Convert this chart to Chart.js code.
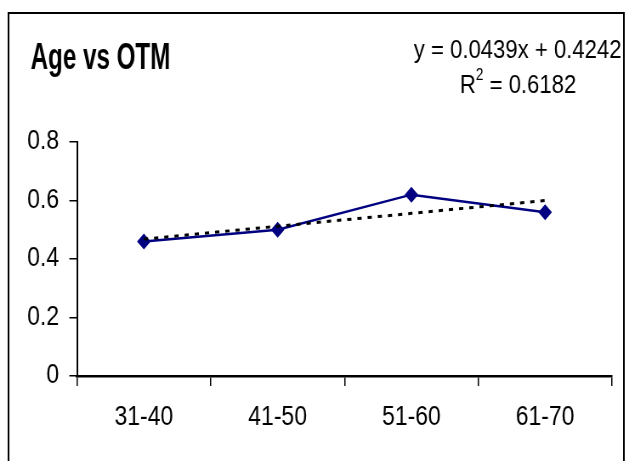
<!DOCTYPE html>
<html>
<head>
<meta charset="utf-8">
<script src="https://cdn.jsdelivr.net/npm/chart.js@4/dist/chart.umd.min.js"></script>
<style>
  html, body { margin: 0; padding: 0; background: #fff; overflow: hidden; }
  #wrap { width: 739px; height: 461px; transform: scaleX(0.85); transform-origin: 0 0; }
  #c { display: block; }
</style>
</head>
<body>
<div id="wrap"><canvas id="c" width="739" height="461"></canvas></div>
<script>
const categories = ['31-40', '41-50', '51-60', '61-70'];
const otmValues = [0.46, 0.50, 0.62, 0.56];
const trendValues = [0.468, 0.512, 0.556, 0.600];
const yTicks = [0, 0.2, 0.4, 0.6, 0.8];
const titleText = 'Age vs OTM';
const equationText = 'y = 0.0439x + 0.4242';
const r2Label = 'R';
const r2Sup = '2';
const r2Value = ' = 0.6182';

const FONT = '"Liberation Sans", Arial, sans-serif';

const decor = {
  id: 'decor',
  beforeDraw(chart) {
    const ctx = chart.ctx;
    ctx.save();
    ctx.fillStyle = '#fff';
    ctx.fillRect(0, 0, chart.width, chart.height);
    ctx.strokeStyle = '#000';
    ctx.lineWidth = 2;
    ctx.strokeRect(10, 13, 724, 470);
    ctx.restore();
  },
  afterDraw(chart) {
    const ctx = chart.ctx;
    ctx.save();
    ctx.fillStyle = '#000';
    ctx.textBaseline = 'alphabetic';
    // title (extra condensed)
    ctx.save();
    ctx.translate(36, 69);
    ctx.scale(0.79, 1);
    ctx.font = 'bold 36px ' + FONT;
    ctx.textAlign = 'left';
    ctx.fillText(titleText, 0, 0);
    ctx.restore();
    // equation
    ctx.font = '26px ' + FONT;
    ctx.textAlign = 'center';
    ctx.fillText(equationText, 609, 58);
    // R^2 line
    const mainFont = '26px ' + FONT;
    const supFont = '16px ' + FONT;
    ctx.font = mainFont;
    const wR = ctx.measureText(r2Label).width;
    const wV = ctx.measureText(r2Value).width;
    ctx.font = supFont;
    const wS = ctx.measureText(r2Sup).width;
    const total = wR + wS + wV;
    let x = 609.5 - total / 2;
    ctx.textAlign = 'left';
    ctx.font = mainFont;
    ctx.fillText(r2Label, x, 93);
    x += wR;
    ctx.font = supFont;
    ctx.fillText(r2Sup, x, 80);
    x += wS;
    ctx.font = mainFont;
    ctx.fillText(r2Value, x, 93);
    ctx.restore();
  }
};

new Chart(document.getElementById('c'), {
  type: 'line',
  data: {
    labels: categories,
    datasets: [
      {
        label: 'Linear (OTM)',
        data: trendValues,
        borderColor: '#000',
        borderWidth: 3,
        borderDash: [5, 7],
        borderCapStyle: 'butt',
        pointRadius: 0,
        fill: false,
        tension: 0,
        order: 0
      },
      {
        label: 'OTM',
        data: otmValues,
        borderColor: '#000080',
        backgroundColor: '#000080',
        borderWidth: 2.5,
        pointStyle: 'rectRot',
        pointRadius: 8,
        pointBorderWidth: 0,
        pointBackgroundColor: '#000080',
        fill: false,
        tension: 0,
        order: 1
      }
    ]
  },
  options: {
    responsive: false,
    animation: false,
    devicePixelRatio: 1,
    layout: { padding: { top: 142, left: 10, right: 19, bottom: 0 } },
    plugins: {
      legend: { display: false },
      title: { display: false },
      tooltip: { enabled: false }
    },
    scales: {
      x: {
        type: 'category',
        offset: true,
        grid: {
          display: true,
          offset: true,
          drawOnChartArea: false,
          drawTicks: true,
          tickLength: 10,
          color: '#000',
          lineWidth: 1.5
        },
        border: { display: true, color: '#000', width: 2.5 },
        ticks: {
          color: '#000',
          padding: 15,
          maxRotation: 0,
          font: { family: FONT, size: 27 }
        },
        afterFit(scale) { scale.height = 85; }
      },
      y: {
        min: 0,
        max: 0.8,
        afterBuildTicks(scale) { scale.ticks = yTicks.map(v => ({ value: v })); },
        grid: {
          display: true,
          drawOnChartArea: false,
          drawTicks: true,
          tickLength: 9,
          color: '#000',
          lineWidth: 1.5
        },
        border: { display: true, color: '#000', width: 2 },
        ticks: {
          color: '#000',
          padding: 12,
          font: { family: FONT, size: 27 },
          callback(v) { return String(Math.round(v * 10) / 10); }
        },
        afterFit(scale) { scale.width = 80.6; }
      }
    }
  },
  plugins: [decor]
});
</script>
</body>
</html>
